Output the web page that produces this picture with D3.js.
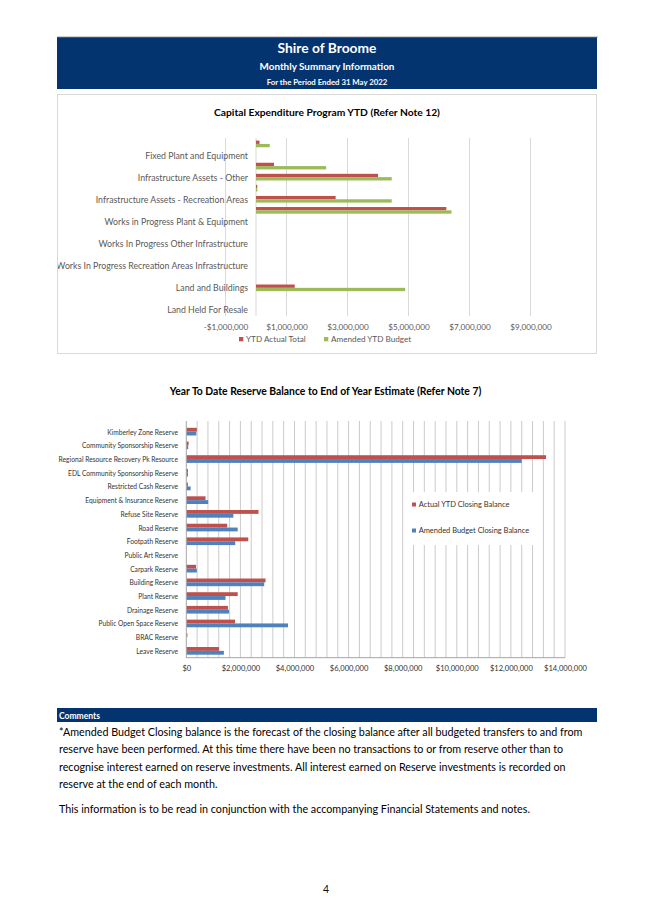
<!DOCTYPE html>
<html><head><meta charset="utf-8">
<script src="https://cdn.jsdelivr.net/npm/d3@7"></script>
<style>html,body{margin:0;padding:0;background:#fff;}svg{display:block;}</style>
</head><body>
<script>
// ---------- DATA ----------
const headerLines = ["Shire of Broome", "Monthly Summary Information", "For the Period Ended 31 May 2022"];

const capTitle = "Capital Expenditure Program YTD (Refer Note 12)";
const capCategories = [
  "Furniture and Equipment",
  "Fixed Plant and Equipment",
  "Infrastructure Assets - Footpaths",
  "Infrastructure Assets - Other",
  "Infrastructure Assets - Drainage",
  "Infrastructure Assets - Recreation Areas",
  "Infrastructure Assets - Roads",
  "Works in Progress Plant & Equipment",
  "Works In Progress Roads",
  "Works In Progress Other Infrastructure",
  "Works In Progress Buildings",
  "Works In Progress Recreation Areas Infrastructure",
  "Works In Progress Footpaths",
  "Land and Buildings",
  "Land",
  "Land Held For Resale"
];
const capActual = [115000, 0, 590000, 4000000, 40000, 2610000, 6240000, 0, 0, 0, 0, 0, 0, 1270000, 0, 0];
const capBudget = [450000, 0, 2300000, 4450000, 45000, 4450000, 6410000, 0, 0, 0, 0, 0, 0, 4890000, 0, 0];
const capTicks = [-1000000, 1000000, 3000000, 5000000, 7000000, 9000000];
const capSeries = ["YTD Actual Total", "Amended YTD Budget"];

const resTitle = "Year To Date Reserve Balance to End of Year Estimate (Refer Note 7)";
const resCategories = [
  "Kimberley Zone Reserve",
  "Community Sponsorship Reserve",
  "Regional Resource Recovery Pk Resource",
  "EDL Community Sponsorship Reserve",
  "Restricted Cash Reserve",
  "Equipment & Insurance Reserve",
  "Refuse Site Reserve",
  "Road Reserve",
  "Footpath Reserve",
  "Public Art Reserve",
  "Carpark Reserve",
  "Building Reserve",
  "Plant Reserve",
  "Drainage Reserve",
  "Public Open Space Reserve",
  "BRAC  Reserve",
  "Leave Reserve"
];
const resActual = [390000, 86000, 13300000, 60000, 60000, 710000, 2670000, 1510000, 2290000, 0, 360000, 2930000, 1900000, 1540000, 1800000, 40000, 1210000];
const resBudget = [370000, 70000, 12400000, 60000, 160000, 810000, 1740000, 1900000, 1810000, 0, 390000, 2880000, 1450000, 1580000, 3760000, 0, 1390000];
const resTicks = [0, 2000000, 4000000, 6000000, 8000000, 10000000, 12000000, 14000000];
const resSeries = ["Actual YTD Closing Balance", "Amended Budget Closing Balance"];

const commentsHeading = "Comments";
const commentLines = [
  "*Amended Budget Closing balance is the forecast of the closing balance after all budgeted transfers to and from",
  "reserve have been performed. At this time there have been no transactions to or from reserve other than to",
  "recognise interest earned on reserve investments. All interest earned on Reserve investments is recorded on",
  "reserve at the end of each month."
];
const footnoteLine = "This information is to be read in conjunction with the accompanying Financial Statements and notes.";
const pageNumber = "4";

// ---------- DRAW ----------
const W = 653, H = 924;
const NAVY = "#03346F", RED = "#C0504D", GREEN = "#9BBB59", BLUE = "#4F81BD", GRID = "#D9D9D9", GRID2 = "#CACACA";
const FONT = "Lato, 'Open Sans', sans-serif";

function fit(sel, target) {
  const w = sel.node().getComputedTextLength();
  const fs = parseFloat(sel.attr("font-size"));
  const nf = fs * target / w;
  sel.attr("font-size", nf);
  return nf;
}
const money = v => (v < 0 ? "-" : "") + "$" + d3.format(",")(Math.abs(v));

function draw() {
  const svg = d3.select("body").append("svg").attr("width", W).attr("height", H)
    .style("font-family", FONT);
  svg.append("rect").attr("width", W).attr("height", H).attr("fill", "#fff");

  // Header
  svg.append("rect").attr("x", 57).attr("y", 37).attr("width", 540).attr("height", 52).attr("fill", NAVY);
  svg.append("line").attr("x1", 57).attr("x2", 598).attr("y1", 37).attr("y2", 37).attr("stroke", "#8c8c8c").attr("stroke-width", 0.8);
  const hY = [47.5, 66, 82], hW = [99, 135, 121], hS = [13, 9, 7.5];
  headerLines.forEach((t, i) => {
    const s = svg.append("text").attr("x", 327).attr("y", hY[i]).attr("text-anchor", "middle")
      .attr("dominant-baseline", "central").attr("font-weight", 700).attr("fill", "#fff")
      .attr("font-size", hS[i]).text(t);
    fit(s, hW[i]);
  });

  // ---------- Chart 1 ----------
  const c1 = svg.append("g");
  c1.append("rect").attr("x", 57.5).attr("y", 94.5).attr("width", 539).attr("height", 259)
    .attr("fill", "#fff").attr("stroke", GRID).attr("stroke-width", 1);
  svg.append("clipPath").attr("id", "c1clip").append("rect").attr("x", 58).attr("y", 95).attr("width", 538).attr("height", 258);
  const t1 = c1.append("text").attr("x", 327).attr("y", 112).attr("text-anchor", "middle")
    .attr("dominant-baseline", "central").attr("font-weight", 700).attr("fill", "#000")
    .attr("font-size", 10).text(capTitle);
  fit(t1, 226);

  const x1 = d3.scaleLinear().domain([-1000000, 9000000]).range([225.5, 530.5]);
  const y1 = d3.scaleBand().domain(capCategories).range([138.4, 315.5]).paddingInner(0.4).paddingOuter(0.2);
  const sub1 = d3.scaleBand().domain(capSeries).range([0, y1.bandwidth()]);

  c1.append("g").selectAll("line").data(capTicks).join("line")
    .attr("x1", d => x1(d)).attr("x2", d => x1(d)).attr("y1", 138).attr("y2", 316)
    .attr("stroke", GRID).attr("stroke-width", 1);
  c1.append("line").attr("x1", x1(0)).attr("x2", x1(0)).attr("y1", 138).attr("y2", 316)
    .attr("stroke", GRID).attr("stroke-width", 1);

  const rows1 = capCategories.map((c, i) => ({ c, vals: [capActual[i], capBudget[i]] }));
  const g1 = c1.append("g").selectAll("g").data(rows1).join("g")
    .attr("transform", d => `translate(0,${y1(d.c)})`);
  g1.selectAll("rect").data(d => d.vals.map((v, k) => ({ v, s: capSeries[k] }))).join("rect")
    .attr("x", d => x1(Math.min(0, d.v))).attr("width", d => Math.abs(x1(d.v) - x1(0)))
    .attr("y", d => sub1(d.s)).attr("height", sub1.bandwidth())
    .attr("fill", d => d.s === capSeries[0] ? RED : GREEN);

  // category labels (every second label shown, as in the source)
  const lab1 = c1.append("g").attr("clip-path", "url(#c1clip)");
  const shown1 = capCategories.filter((c, i) => i % 2 === 1);
  const l1 = lab1.selectAll("text").data(shown1).join("text")
    .attr("x", 248).attr("y", d => y1(d) + y1.bandwidth() / 2)
    .attr("text-anchor", "end").attr("dominant-baseline", "central")
    .attr("fill", "#595959").attr("font-size", 9).text(d => d);
  const fs1 = fit(l1.filter(d => d === "Fixed Plant and Equipment"), 103);
  l1.attr("font-size", fs1);

  // x axis
  const ax1 = c1.append("g").attr("transform", "translate(0,327)")
    .call(d3.axisBottom(x1).tickValues(capTicks).tickFormat(money).tickSize(0).tickPadding(0));
  ax1.select(".domain").remove();
  ax1.selectAll("text").attr("dy", null).attr("y", 0).attr("dominant-baseline", "central")
    .attr("fill", "#595959").attr("font-family", FONT).attr("font-size", 9);
  const tf1 = fit(ax1.selectAll("text").filter(d => d === 1000000), 41.6);
  ax1.selectAll("text").attr("font-size", tf1);

  // legend
  const lg1x = [239, 324];
  capSeries.forEach((s, i) => {
    c1.append("rect").attr("x", lg1x[i]).attr("y", 337).attr("width", 4.3).attr("height", 4.3)
      .attr("fill", i === 0 ? RED : GREEN);
    c1.append("text").attr("x", lg1x[i] + 7).attr("y", 339.2).attr("dominant-baseline", "central")
      .attr("fill", "#595959").attr("font-size", tf1).text(s);
  });

  // ---------- Chart 2 ----------
  const c2 = svg.append("g");
  const t2 = c2.append("text").attr("x", 325.5).attr("y", 390.5).attr("text-anchor", "middle")
    .attr("dominant-baseline", "central").attr("font-weight", 700).attr("fill", "#000")
    .attr("font-size", 10).text(resTitle);
  fit(t2, 312);

  const x2 = d3.scaleLinear().domain([0, 14000000]).range([186.3, 565]);
  const y2 = d3.scaleBand().domain(resCategories).range([424.8, 657.7]).paddingInner(0.44).paddingOuter(0.22);
  const sub2 = d3.scaleBand().domain(resSeries).range([0, y2.bandwidth()]);

  const grid2 = d3.range(0, 14000001, 400000);
  c2.append("g").selectAll("line").data(grid2.slice(1)).join("line")
    .attr("x1", d => x2(d)).attr("x2", d => x2(d)).attr("y1", 421).attr("y2", 657.7)
    .attr("stroke", GRID2).attr("stroke-width", 1);

  // legend background box covering gridlines
  c2.append("rect").attr("x", 407).attr("y", 492).attr("width", 131).attr("height", 53).attr("fill", "#fff");

  const rows2 = resCategories.map((c, i) => ({ c, vals: [resActual[i], resBudget[i]] }));
  const g2 = c2.append("g").selectAll("g").data(rows2).join("g")
    .attr("transform", d => `translate(0,${y2(d.c)})`);
  g2.selectAll("rect").data(d => d.vals.map((v, k) => ({ v, s: resSeries[k] }))).join("rect")
    .attr("x", x2(0)).attr("width", d => x2(d.v) - x2(0))
    .attr("y", d => sub2(d.s)).attr("height", sub2.bandwidth())
    .attr("fill", d => d.s === resSeries[0] ? RED : BLUE);

  // axis lines
  c2.append("line").attr("x1", x2(0)).attr("x2", x2(0)).attr("y1", 421).attr("y2", 658)
    .attr("stroke", "#A6A6A6").attr("stroke-width", 1);
  c2.append("line").attr("x1", x2(0)).attr("x2", x2(14000000)).attr("y1", 657.7).attr("y2", 657.7)
    .attr("stroke", "#A6A6A6").attr("stroke-width", 1);

  const l2 = c2.append("g").selectAll("text").data(resCategories).join("text")
    .attr("x", 178).attr("y", d => y2(d) + y2.bandwidth() / 2)
    .attr("text-anchor", "end").attr("dominant-baseline", "central")
    .attr("fill", "#333").attr("font-size", 7).text(d => d);
  const fs2 = fit(l2.filter(d => d === "Kimberley Zone Reserve"), 71);
  l2.attr("font-size", fs2);

  const ax2 = c2.append("g").attr("transform", "translate(0,668.5)")
    .call(d3.axisBottom(x2).tickValues(resTicks).tickFormat(money).tickSize(0).tickPadding(0));
  ax2.select(".domain").remove();
  ax2.selectAll("text").attr("dy", null).attr("y", 0).attr("dominant-baseline", "central")
    .attr("fill", "#333").attr("font-family", FONT).attr("font-size", 8);
  const tf2 = fit(ax2.selectAll("text").filter(d => d === 2000000), 38.6);
  ax2.selectAll("text").attr("font-size", tf2);

  const lg2y = [504.5, 530.5];
  let lf2 = null;
  resSeries.forEach((s, i) => {
    c2.append("rect").attr("x", 412).attr("y", lg2y[i] - 2).attr("width", 4).attr("height", 4)
      .attr("fill", i === 0 ? RED : BLUE);
    const t = c2.append("text").attr("x", 418.7).attr("y", lg2y[i]).attr("dominant-baseline", "central")
      .attr("fill", "#333").attr("font-size", 7).text(s);
    if (i === 0) lf2 = fit(t, 90.7); else t.attr("font-size", lf2);
  });

  // ---------- Comments ----------
  svg.append("rect").attr("x", 57).attr("y", 708).attr("width", 540).attr("height", 14).attr("fill", NAVY);
  const ch = svg.append("text").attr("x", 59).attr("y", 715.5).attr("dominant-baseline", "central")
    .attr("font-weight", 700).attr("fill", "#fff").attr("font-size", 7).text(commentsHeading);
  fit(ch, 41);

  const cY = [731, 748.6, 766.2, 783.8];
  let cf = null;
  commentLines.forEach((t, i) => {
    const s = svg.append("text").attr("x", 59).attr("y", cY[i]).attr("dominant-baseline", "central")
      .attr("fill", "#000").attr("font-size", 11).text(t);
    if (i === 0) cf = fit(s, 524); else s.attr("font-size", cf);
  });
  svg.append("text").attr("x", 59).attr("y", 808.3).attr("dominant-baseline", "central")
    .attr("fill", "#000").attr("font-size", cf).text(footnoteLine);

  svg.append("text").attr("x", 326).attr("y", 889).attr("text-anchor", "middle").attr("dominant-baseline", "central")
    .attr("fill", "#111").attr("font-size", 10.5).text(pageNumber);
}

if (document.fonts && document.fonts.ready) {
  document.fonts.load("700 10px Lato").then(() => document.fonts.ready).then(draw, draw);
} else draw();
</script>
</body></html>
